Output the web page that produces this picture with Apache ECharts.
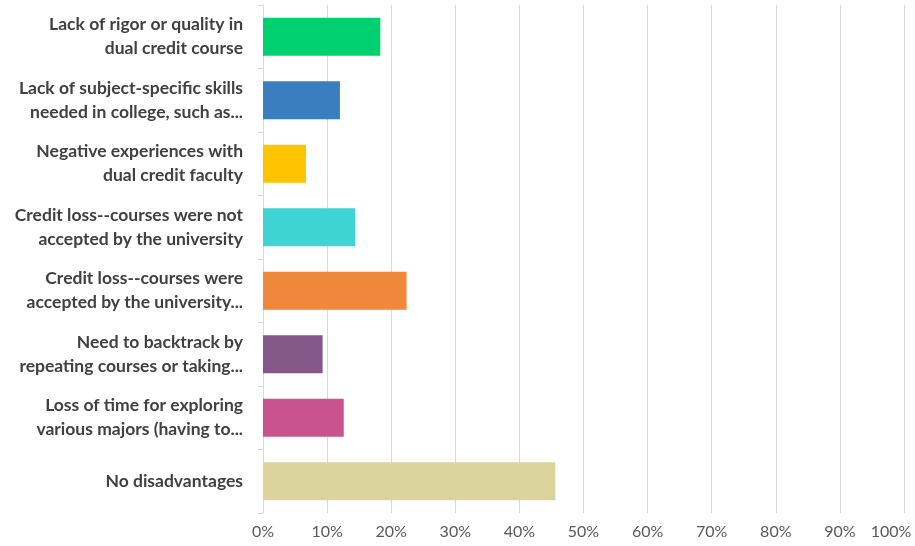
<!DOCTYPE html>
<html>
<head>
<meta charset="utf-8">
<script src="https://cdn.jsdelivr.net/npm/echarts@6/dist/echarts.min.js"></script>
<style>
  html, body { margin: 0; padding: 0; background: #ffffff; }
  #chart { width: 915px; height: 546px; }
</style>
</head>
<body>
<div id="chart"></div>
<script>
// Survey responses: perceived disadvantages of dual credit (share of respondents, %)
const categories = [
  "Lack of rigor or quality in\ndual credit course",
  "Lack of subject-specific skills\nneeded in college, such as...",
  "Negative experiences with\ndual credit faculty",
  "Credit loss--courses were not\naccepted by the university",
  "Credit loss--courses were\naccepted by the university...",
  "Need to backtrack by\nrepeating courses or taking...",
  "Loss of time for exploring\nvarious majors (having to...",
  "No disadvantages"
];
const values = [18.3, 12.0, 6.7, 14.4, 22.4, 9.3, 12.6, 45.6];
const barColors = ["#00D070", "#3A7EBF", "#FFC400", "#40D3D3", "#EF883B", "#845888", "#C9548D", "#DAD39C"];
const tickValues = [0, 10, 20, 30, 40, 50, 60, 70, 80, 90, 100];

const labelFont = 'Lato, "Open Sans", sans-serif';
const maxTick = tickValues[tickValues.length - 1];

const chart = echarts.init(document.getElementById('chart'), null, { renderer: 'canvas' });
chart.setOption({
  animation: false,
  grid: { left: 263, right: 11, top: 5, bottom: 33, containLabel: false, outerBoundsMode: 'none' },
  xAxis: {
    type: 'value',
    min: tickValues[0],
    max: maxTick,
    interval: 10,
    axisLine: { show: false },
    axisTick: { show: false },
    splitLine: { show: true, lineStyle: { color: '#D9D9D9', width: 1 } },
    axisLabel: {
      // the last label is nudged left so it stays inside the canvas
      formatter: v => v === maxTick ? '{last|' + v + '%}' : v + '%',
      color: '#595959',
      fontFamily: labelFont,
      fontSize: 16,
      margin: 11,
      rich: {
        last: { color: '#595959', fontFamily: labelFont, fontSize: 16, padding: [0, 26, 0, 0] }
      }
    }
  },
  yAxis: {
    type: 'category',
    data: categories,
    inverse: true,
    axisLine: { show: true, lineStyle: { color: '#D9D9D9', width: 1 } },
    axisTick: { show: true, length: 5, lineStyle: { color: '#D9D9D9' } },
    splitLine: { show: false },
    axisLabel: {
      color: '#404040',
      fontFamily: labelFont,
      fontWeight: 'bold',
      fontSize: 17.5,
      lineHeight: 24,
      margin: 20,
      align: 'right'
    }
  },
  series: [{
    type: 'bar',
    data: values.map((v, i) => ({ value: v, itemStyle: { color: barColors[i] } })),
    barCategoryGap: '40%'
  }]
});
</script>
</body>
</html>
